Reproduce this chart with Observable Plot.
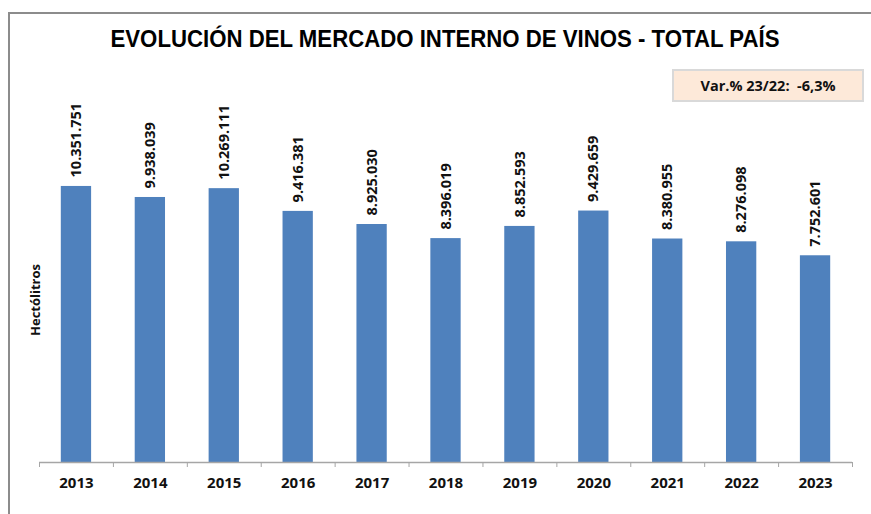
<!DOCTYPE html>
<html>
<head>
<meta charset="utf-8">
<script src="https://cdn.jsdelivr.net/npm/d3@7"></script>
<script src="https://cdn.jsdelivr.net/npm/@observablehq/plot@0.6"></script>
<style>
  html, body { margin: 0; padding: 0; background: #fff; }
  #wrap { position: relative; width: 871px; height: 514px; overflow: hidden; font-family: "Open Sans", "Liberation Sans", Arial, sans-serif; }
  #frame { position: absolute; left: 8px; top: 12px; width: 900px; height: 600px; border-left: 2px solid #8c8c8c; border-top: 2px solid #8c8c8c; }
  #title { position: absolute; left: 445px; top: 25px; white-space: nowrap; font-weight: bold; font-size: 24px; color: #000; transform-origin: 0 0; font-family: "Liberation Sans", Arial, sans-serif; }
  #box { position: absolute; left: 672px; top: 69px; width: 188px; height: 29px; background: #fde9d9; border: 2px solid #d9d9d9; font-weight: bold; font-size: 14.5px; line-height: 29px; text-align: center; white-space: pre; color: #111; }
  #ylab { position: absolute; left: 35px; top: 300px; transform: translate(-50%, -50%) rotate(-90deg); font-weight: bold; font-size: 13px; white-space: nowrap; color: #111; }
  #chart { position: absolute; left: 0; top: 0; }
</style>
</head>
<body>
<div id="wrap">
  <div id="frame"></div>
  <div id="chart"></div>
  <div id="title">EVOLUCIÓN DEL MERCADO INTERNO DE VINOS - TOTAL PAÍS</div>
  <div id="box">Var.% 23/22:  -6,3%</div>
  <div id="ylab">Hectólitros</div>
</div>
<script>
const years = ["2013","2014","2015","2016","2017","2018","2019","2020","2021","2022","2023"];
const values = [10351751, 9938039, 10269111, 9416381, 8925030, 8396019, 8852593, 9429659, 8380955, 8276098, 7752601];

const data = years.map((y, i) => ({year: y, value: values[i]}));
const fmt = d3.formatLocale({thousands: ".", decimal: ",", grouping: [3], currency: ["", ""]}).format(",");

const W = 871, H = 514, mL = 39, mR = 19;
const step = (W - mL - mR) / years.length;
const font = "'Open Sans', 'Liberation Sans', Arial, sans-serif";

const plot = Plot.plot({
  width: W,
  height: H,
  marginLeft: mL,
  marginRight: mR,
  marginTop: 142,
  marginBottom: 52,
  style: {fontFamily: font, background: "transparent"},
  x: {domain: years, paddingInner: 0.59, paddingOuter: 0.295, round: false, label: null},
  y: {domain: [0, 12000000], axis: null},
  marks: [
    Plot.barY(data, {x: "year", y: "value", fill: "#4f81bd"}),
    Plot.ruleY([0], {stroke: "#a6a6a6", strokeWidth: 1.5}),
    Plot.ruleX(years, {x: d => d, y1: 0, y2: 0, dx: -step / 2, stroke: "#a6a6a6", insetBottom: -5}),
    Plot.ruleX([years[years.length - 1]], {x: d => d, y1: 0, y2: 0, dx: step / 2, stroke: "#a6a6a6", insetBottom: -5}),
    Plot.text(data, {x: "year", y: "value", text: d => fmt(d.value), rotate: -90, textAnchor: "start", dy: -9, fontSize: 14.5, fontWeight: "bold", fill: "#111"}),
    Plot.axisX({tickSize: 0, tickPadding: 15, fontSize: 15, fontWeight: "bold", fill: "#111", label: null})
  ]
});
document.getElementById("chart").appendChild(plot);

// fit title width to reference span
const t = document.getElementById("title");
const w = t.getBoundingClientRect().width;
const target = 669;
t.style.transform = `translate(${-target / 2}px, 0) scaleX(${target / w})`;
</script>
</body>
</html>
